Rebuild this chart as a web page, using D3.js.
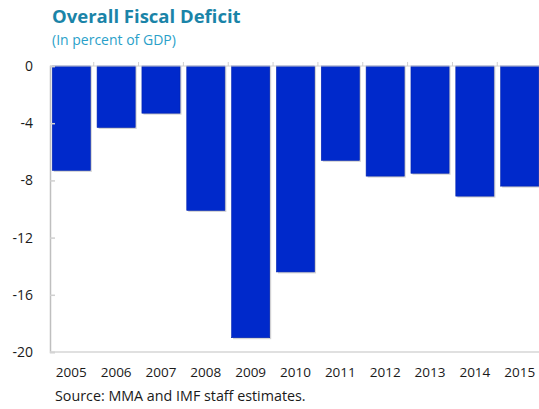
<!DOCTYPE html>
<html>
<head>
<meta charset="utf-8">
<script src="https://cdn.jsdelivr.net/npm/d3@7"></script>
<style>
  body { margin: 0; background: #fff; }
  text { font-family: "Open Sans", "Noto Sans", sans-serif; }
</style>
</head>
<body>
<div id="chart"></div>
<script>
const years = ["2005", "2006", "2007", "2008", "2009", "2010", "2011", "2012", "2013", "2014", "2015"];
const deficit = [-7.3, -4.3, -3.3, -10.1, -19.0, -14.4, -6.6, -7.7, -7.5, -9.1, -8.4];
const yTicks = [0, -4, -8, -12, -16, -20];

const width = 539, height = 409;
const margin = { top: 66, right: -2, bottom: 57, left: 50 };

const svg = d3.select("#chart")
    .append("svg")
    .attr("width", width)
    .attr("height", height);

// title
svg.append("text")
    .attr("x", 52).attr("y", 23)
    .style("font-size", "18.5px").style("font-weight", "700")
    .style("fill", "#1a84a8")
    .text("Overall Fiscal Deficit");

svg.append("text")
    .attr("x", 52).attr("y", 45)
    .style("font-size", "14px")
    .style("fill", "#2a9fc9")
    .text("(In percent of GDP)");

const x = d3.scaleBand()
    .domain(years)
    .range([margin.left, width - margin.right])
    .paddingInner(0.15)
    .paddingOuter(0.05);

const y = d3.scaleLinear()
    .domain([-20, 0])
    .range([height - margin.bottom, margin.top]);

// bar shadows then bars
const data = years.map((d, i) => ({ year: d, value: deficit[i] }));

svg.append("g").selectAll("rect")
    .data(data)
    .enter()
    .append("rect")
    .attr("x", d => x(d.year) + 1.5)
    .attr("y", y(0))
    .attr("width", x.bandwidth())
    .attr("height", d => y(d.value) - y(0) + 1.5)
    .attr("fill", "#d4d4d4");

svg.append("g").selectAll("rect")
    .data(data)
    .enter()
    .append("rect")
    .attr("x", d => x(d.year))
    .attr("y", y(0))
    .attr("width", x.bandwidth())
    .attr("height", d => y(d.value) - y(0))
    .attr("fill", "#0029cb")
    .attr("stroke", "#0022b0")
    .attr("stroke-width", 0.6);

// y axis
const yAxis = svg.append("g")
    .attr("transform", `translate(${margin.left},0)`)
    .call(d3.axisLeft(y).tickValues(yTicks).tickSize(-5).tickPadding(17).tickFormat(d3.format("d")));
yAxis.select(".domain").attr("stroke", "#bfbfbf").attr("stroke-width", 1.5);
yAxis.selectAll(".tick line").attr("stroke", "#d0d0d0").attr("stroke-width", 1.5);
yAxis.selectAll(".tick text")
    .style("font-size", "14px").style("fill", "#1a1a1a")
    .text(d => d === 0 ? "0" : "-" + Math.abs(d));

// bottom axis line
svg.append("line")
    .attr("x1", margin.left).attr("x2", width)
    .attr("y1", y(-20)).attr("y2", y(-20))
    .attr("stroke", "#d6d6d6").attr("stroke-width", 1.5);

// zero line with category ticks
svg.append("line")
    .attr("x1", margin.left).attr("x2", width)
    .attr("y1", y(0)).attr("y2", y(0))
    .attr("stroke", "#d0d0d0").attr("stroke-width", 1);
svg.append("g").selectAll("line")
    .data(years.slice(1))
    .enter()
    .append("line")
    .attr("x1", d => x(d) - x.step() * x.paddingInner() / 2)
    .attr("x2", d => x(d) - x.step() * x.paddingInner() / 2)
    .attr("y1", y(0) - 4).attr("y2", y(0))
    .attr("stroke", "#d0d0d0").attr("stroke-width", 1);

// x labels
svg.append("g").selectAll("text")
    .data(years)
    .enter()
    .append("text")
    .attr("x", d => x(d) + x.bandwidth() / 2)
    .attr("y", 377)
    .attr("text-anchor", "middle")
    .style("font-size", "13.5px").style("fill", "#1a1a1a")
    .text(d => d);

svg.append("text")
    .attr("x", 55).attr("y", 401)
    .style("font-size", "14.3px").style("fill", "#1a1a1a")
    .text("Source: MMA and IMF staff estimates.");
</script>
</body>
</html>
